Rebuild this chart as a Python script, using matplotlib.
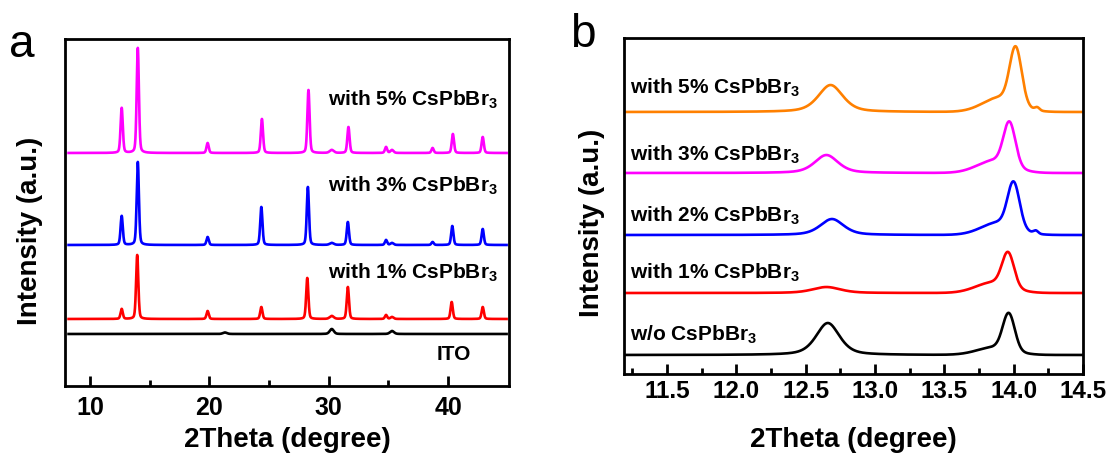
import numpy as np
import matplotlib.pyplot as plt

plt.rcParams['font.family'] = ['Liberation Sans', 'DejaVu Sans']
plt.rcParams['font.weight'] = 'bold'
plt.rcParams['mathtext.fontset'] = 'custom'
plt.rcParams['mathtext.rm'] = 'Liberation Sans:bold'
plt.rcParams['mathtext.default'] = 'rm'

# ---------------- panel a : full-range XRD (peak position, height, FWHM) ----------------
a_labels = ['ITO', 'with 1% CsPbBr$_3$', 'with 3% CsPbBr$_3$', 'with 5% CsPbBr$_3$']
a_colors = ['black', '#ff0000', '#0000ff', '#ff00ff']
a_offsets = [52, 67, 141, 233]
a_peaks = [
    [(21.3, 1.5, 0.4), (30.25, 5, 0.4), (35.3, 3, 0.4)],
    [(12.65, 10, 0.22), (13.95, 64, 0.22), (19.85, 8, 0.22), (24.35, 12, 0.22),
     (28.2, 41, 0.22), (30.25, 3, 0.4), (31.6, 32, 0.22), (34.8, 4, 0.22),
     (35.3, 2, 0.3), (40.3, 17, 0.22), (42.9, 12, 0.22)],
    [(12.65, 29, 0.22), (14.0, 83, 0.22), (19.85, 8, 0.22), (24.35, 38, 0.22),
     (28.25, 58, 0.22), (30.25, 2, 0.4), (31.6, 23, 0.22), (34.8, 5, 0.22),
     (35.3, 2, 0.3), (38.7, 3, 0.22), (40.35, 19, 0.22), (42.9, 16, 0.22)],
    [(12.65, 45, 0.22), (14.0, 105, 0.22), (19.85, 10, 0.22), (24.4, 34, 0.22),
     (28.3, 63, 0.22), (30.25, 3, 0.4), (31.65, 26, 0.22), (34.8, 6, 0.22),
     (35.3, 3, 0.3), (38.7, 5, 0.22), (40.4, 19, 0.22), (42.9, 16, 0.22)],
]
a_label_y = [31, 113, 200, 286]

# ---------------- panel b : zoom on 11.2-14.5 degree ----------------
# (position, height, FWHM, lorentz fraction)
b_labels = ['w/o CsPbBr$_3$', 'with 1% CsPbBr$_3$', 'with 2% CsPbBr$_3$',
            'with 3% CsPbBr$_3$', 'with 5% CsPbBr$_3$']
b_colors = ['black', '#ff0000', '#0000ff', '#ff00ff', '#ff8000']
b_offsets = [19, 81, 139, 201, 262]
b_peaks = [
    [(12.66, 32, 0.20, 0.5), (13.87, 8, 0.30, 0.0), (13.965, 36, 0.10, 0.0)],
    [(12.65, 6, 0.24, 0.5), (13.86, 11, 0.30, 0.0), (13.96, 33, 0.10, 0.0)],
    [(12.69, 16, 0.20, 0.5), (13.90, 13, 0.30, 0.0), (14.00, 44, 0.10, 0.0),
     (14.16, 3, 0.04, 0.0)],
    [(12.65, 18, 0.20, 0.5), (13.87, 13, 0.30, 0.0), (13.97, 42, 0.10, 0.0)],
    [(12.68, 27, 0.21, 0.5), (13.91, 15, 0.30, 0.0), (14.015, 55, 0.10, 0.0),
     (14.17, 3, 0.04, 0.0)],
]
b_label_y = [39, 101, 158, 219, 286]


def pseudo_voigt(x, c, h, w, eta=0.3):
    g = np.exp(-4 * np.log(2) * ((x - c) / w) ** 2)
    l = 1.0 / (1 + 4 * ((x - c) / w) ** 2)
    return h * ((1 - eta) * g + eta * l)


def pattern(x, peaks, base):
    y = np.full_like(x, base, dtype=float)
    for p in peaks:
        y += pseudo_voigt(x, *p)
    return y


def style_axes(ax, tick_size):
    for s in ax.spines.values():
        s.set_linewidth(2.0)
    ax.tick_params(axis='x', which='both', direction='in', width=2,
                   labelsize=tick_size, top=False)
    ax.tick_params(axis='x', which='major', length=7)
    ax.tick_params(axis='x', which='minor', length=4)
    ax.set_yticks([])
    ax.set_xlabel('2Theta (degree)', fontsize=20, fontweight='bold')
    ax.set_ylabel('Intensity (a.u.)', fontsize=20, fontweight='bold')


fig = plt.figure(figsize=(11.13, 4.57), dpi=100)

# panel a
ax1 = fig.add_axes([0.0584, 0.1554, 0.3989, 0.7593])
xa = np.linspace(8.2, 44.9, 6000)
for peaks, off, col in zip(a_peaks, a_offsets, a_colors):
    ax1.plot(xa, pattern(xa, peaks, off), color=col, lw=1.9)
for lab, ly in zip(a_labels, a_label_y):
    xpos = 41.9 if lab == 'ITO' else 44.2
    ax1.text(xpos, ly, lab, ha='right', va='center', fontsize=15, fontweight='bold')
ax1.set_xlim(7.9, 45.1)
ax1.set_ylim(0, 347)
ax1.set_xticks([10, 20, 30, 40])
ax1.set_xticks([15, 25, 35], minor=True)
style_axes(ax1, 18)
ax1.tick_params(axis='x', pad=7)
ax1.yaxis.set_label_coords(-0.05, 0.447)
ax1.xaxis.set_label_coords(0.5, -0.118)
fig.text(0.008, 0.875, 'a', fontsize=33, fontweight='normal', va='baseline')

# panel b
ax2 = fig.add_axes([0.5606, 0.1816, 0.4124, 0.7352])
xb = np.linspace(11.2, 14.49, 3000)
for peaks, off, col in zip(b_peaks, b_offsets, b_colors):
    ax2.plot(xb, pattern(xb, peaks, off), color=col, lw=1.9)
for lab, ly in zip(b_labels, b_label_y):
    ax2.text(11.235, ly, lab, ha='left', va='center', fontsize=15, fontweight='bold')
ax2.set_xlim(11.19, 14.5)
ax2.set_ylim(0, 336)
ax2.set_xticks([11.5, 12.0, 12.5, 13.0, 13.5, 14.0, 14.5])
ax2.set_xticks(np.arange(11.25, 14.5, 0.5), minor=True)
style_axes(ax2, 17.5)
ax2.tick_params(axis='x', pad=4)
ax2.yaxis.set_label_coords(-0.041, 0.449)
ax2.xaxis.set_label_coords(0.5, -0.158)
fig.text(0.512, 0.897, 'b', fontsize=33, fontweight='normal', va='baseline')

fig.savefig('out.png', dpi=100)
